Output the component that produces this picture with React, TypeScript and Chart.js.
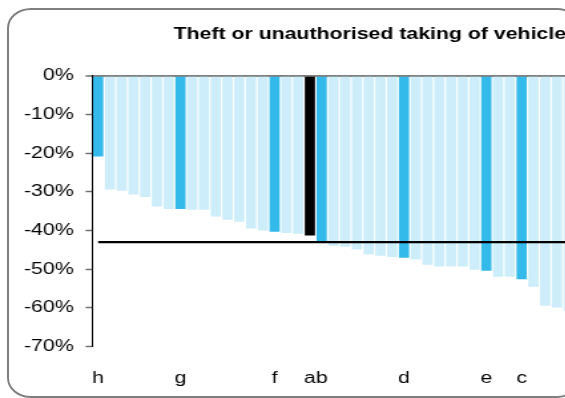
import { useEffect, useRef } from 'react';
import { Chart, registerables } from 'chart.js';

Chart.register(...registerables);

const chartTitle = 'Theft or unauthorised taking of vehicle';

// Percentage change per area (visible bars, sorted)
const barValues = [
  -20.9, -29.4, -29.7, -30.7, -31.3, -33.8, -34.4, -34.4, -34.6, -34.6,
  -36.4, -37.2, -37.7, -39.5, -40.0, -40.3, -40.6, -40.8, -41.3, -42.7,
  -43.9, -44.2, -44.9, -46.2, -46.5, -46.8, -47.0, -47.5, -48.8, -49.3,
  -49.3, -49.3, -50.1, -50.4, -51.9, -51.9, -52.6, -54.5, -59.4, -59.9,
  -60.7,
];

// Category labels (only the highlighted areas are named)
const barLabels = [
  'h', '', '', '', '', '', '', 'g', '', '',
  '', '', '', '', '', 'f', '', '', 'a', 'b',
  '', '', '', '', '', '', 'd', '', '', '',
  '', '', '', 'e', '', '', 'c', '', '', '',
  '',
];

// Off-picture continuation of the axis (chart is cropped on the right)
const hiddenSlots = 13;

const selectedLabel = 'a';
const benchmarkValue = -43;

const yMin = -70;
const yMax = 0;
const yStep = 10;

const colorLight = '#CCEDF9';
const colorHighlight = '#33B9EA';
const colorSelected = '#000000';

const FONT = "'Liberation Sans', Arial, sans-serif";
const STRETCH = 1.33;
const CW = 541;
const CH = 398;

export default function App() {
  const canvasRef = useRef<HTMLCanvasElement | null>(null);

  useEffect(() => {
    if (!canvasRef.current) return;
    const labels = [...barLabels, ...Array(hiddenSlots).fill('')];
    const colors = barLabels.map((l) =>
      l === selectedLabel ? colorSelected : l ? colorHighlight : colorLight
    );
    const chart = new Chart(canvasRef.current, {
      type: 'bar',
      data: {
        labels,
        datasets: [
          {
            type: 'line',
            data: labels.map(() => benchmarkValue),
            borderColor: '#000',
            borderWidth: 2.2,
            pointRadius: 0,
            order: 0,
          } as any,
          {
            type: 'bar',
            data: barValues,
            backgroundColor: colors,
            barPercentage: 0.87,
            categoryPercentage: 1,
            order: 1,
          },
        ],
      },
      options: {
        animation: false,
        responsive: false,
        devicePixelRatio: 1,
        layout: { autoPadding: false, padding: { left: 3, right: 0, top: 0, bottom: 0 } },
        plugins: {
          legend: { display: false },
          tooltip: { enabled: false },
          title: {
            display: true,
            text: chartTitle,
            color: '#000',
            font: { family: FONT, size: 16, weight: 'bold' },
            padding: { top: 25.4, bottom: 31.1 },
          },
        },
        scales: {
          x: {
            grid: { display: false },
            border: { display: false },
            afterFit: (scale: any) => {
              scale.height = 51.3;
              scale.paddingLeft = 0;
              scale.paddingRight = 0;
            },
            ticks: {
              autoSkip: false,
              maxRotation: 0,
              minRotation: 0,
              color: '#000',
              font: { family: FONT, size: 16 },
              padding: 14,
            },
          },
          y: {
            min: yMin,
            max: yMax,
            ticks: {
              stepSize: yStep,
              color: '#000',
              font: { family: FONT, size: 16 },
              padding: 9,
              callback: (v: any) => `${v}%`,
            },
            grid: {
              color: (ctx: any) => (ctx.tick && ctx.tick.value === 0 ? '#808080' : 'rgba(0,0,0,0)'),
              lineWidth: (ctx: any) => (ctx.tick && ctx.tick.value === 0 ? 2 : 1),
              tickLength: 5,
              tickColor: '#707070',
              tickWidth: 1.5,
            },
            border: { color: '#000', width: 1 },
          },
        },
      },
    });
    return () => chart.destroy();
  }, []);

  return (
    <div
      style={{
        position: 'fixed',
        left: 0,
        top: 0,
        width: 565,
        height: 398,
        overflow: 'hidden',
        background: '#fff',
      }}
    >
      <div
        style={{
          position: 'absolute',
          left: 7,
          top: 8,
          width: 570,
          height: 386,
          border: '2px solid #7f7f7f',
          borderRadius: '24px / 20px',
        }}
      />
      <div
        style={{
          position: 'absolute',
          left: 8,
          top: 0,
          width: CW,
          height: CH,
          transform: `scaleX(${STRETCH})`,
          transformOrigin: '0 0',
        }}
      >
        <canvas ref={canvasRef} width={CW} height={CH} />
      </div>
    </div>
  );
}
